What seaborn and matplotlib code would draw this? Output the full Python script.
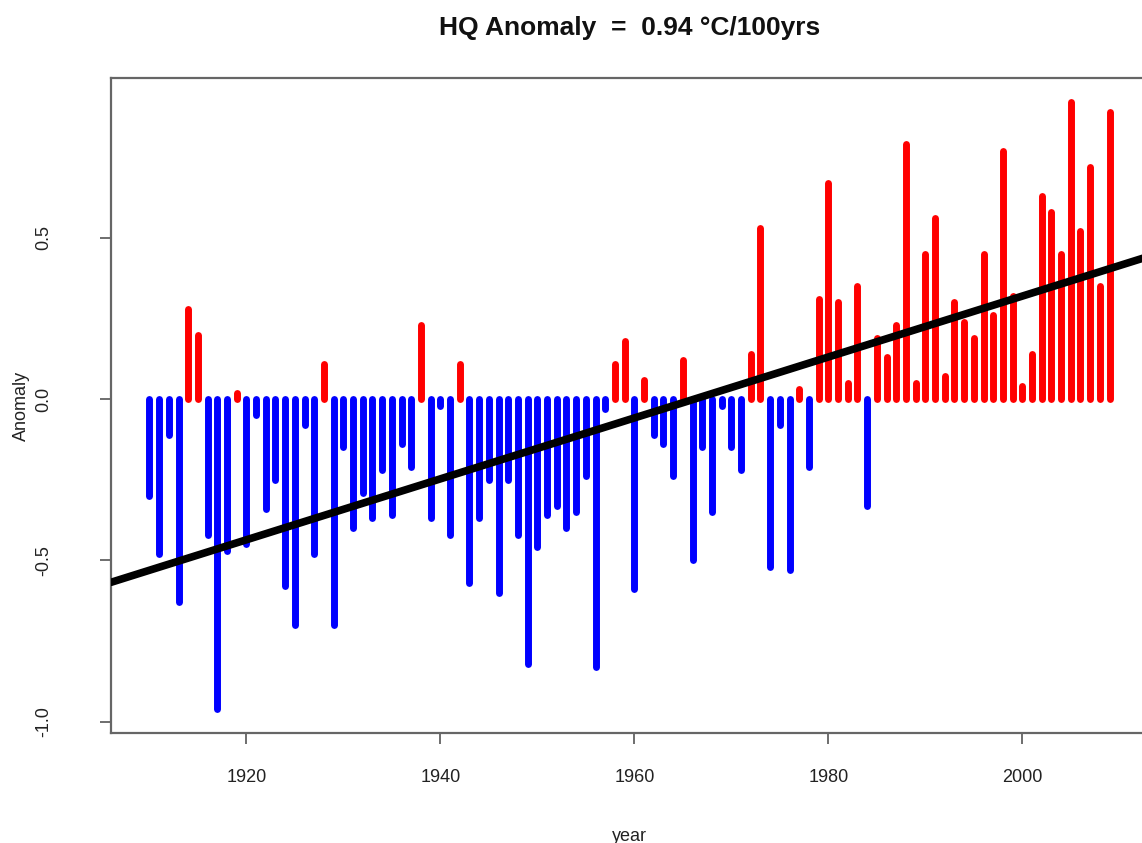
import numpy as np
import pandas as pd
import matplotlib
matplotlib.use("Agg")
import matplotlib.pyplot as plt
import seaborn as sns

# ---- data ----
years = list(range(1910, 2010))
anomaly = [
    -0.30, -0.48, -0.11, -0.63, 0.28, 0.20, -0.42, -0.96, -0.47, 0.02,
    -0.45, -0.05, -0.34, -0.25, -0.58, -0.70, -0.08, -0.48, 0.11, -0.70,
    -0.15, -0.40, -0.29, -0.37, -0.22, -0.36, -0.14, -0.21, 0.23, -0.37,
    -0.02, -0.42, 0.11, -0.57, -0.37, -0.25, -0.60, -0.25, -0.42, -0.82,
    -0.46, -0.36, -0.33, -0.40, -0.35, -0.24, -0.83, -0.03, 0.11, 0.18,
    -0.59, 0.06, -0.11, -0.14, -0.24, 0.12, -0.50, -0.15, -0.35, -0.02,
    -0.15, -0.22, 0.14, 0.53, -0.52, -0.08, -0.53, 0.03, -0.21, 0.31,
    0.67, 0.30, 0.05, 0.35, -0.33, 0.19, 0.13, 0.23, 0.79, 0.05,
    0.45, 0.56, 0.07, 0.30, 0.24, 0.19, 0.45, 0.26, 0.77, 0.32,
    0.04, 0.14, 0.63, 0.58, 0.45, 0.92, 0.52, 0.72, 0.35, 0.89,
]
x_ticks = [1920, 1940, 1960, 1980, 2000]
y_ticks = [-1.0, -0.5, 0.0, 0.5]
title = "HQ Anomaly  =  0.94 \u00b0C/100yrs"

df = pd.DataFrame({"year": years, "anomaly": anomaly})
df["color"] = np.where(df["anomaly"] >= 0, "#FF0000", "#0000FF")

sns.set_style("white")
plt.rcParams["font.family"] = ["Liberation Sans", "DejaVu Sans"]

W, H = 1142, 843
fig = plt.figure(figsize=(W / 100, H / 100), dpi=100)
left, right, top, bottom = 111, 1148, 78, 733
ax = fig.add_axes([left / W, 1 - bottom / H, (right - left) / W, (bottom - top) / H])

xr = df["year"].max() - df["year"].min()
yr = df["anomaly"].max() - df["anomaly"].min()
xlim = (df["year"].min() - 0.04 * xr, df["year"].max() + 0.04 * xr)
ylim = (df["anomaly"].min() - 0.04 * yr, df["anomaly"].max() + 0.04 * yr)
ax.set_xlim(*xlim)
ax.set_ylim(*ylim)

ax.vlines(df["year"], 0, df["anomaly"], colors=df["color"], lw=5.0,
          capstyle="round", zorder=2)

sns.regplot(data=df, x="year", y="anomaly", scatter=False, ci=None,
            truncate=False, ax=ax,
            line_kws=dict(color="black", lw=5.5, zorder=3))

ax.set_xlim(*xlim)
ax.set_ylim(*ylim)

ax.set_xticks(x_ticks)
ax.set_xticklabels([str(t) for t in x_ticks])
ax.set_yticks(y_ticks)
ax.set_yticklabels([f"{t:.1f}" for t in y_ticks], rotation=90, va="center")
ax.tick_params(axis="both", which="both", direction="out", length=8, width=1.2,
               color="#555555", labelsize=13, labelcolor="#222222",
               bottom=True, left=True)
ax.tick_params(axis="x", pad=18)
ax.tick_params(axis="y", pad=34)

for s in ["left", "top", "bottom", "right"]:
    ax.spines[s].set_color("#666666")
    ax.spines[s].set_linewidth(1.6)

ax.set_xlabel("year", fontsize=13, color="#222222", labelpad=30)
ax.set_ylabel("Anomaly", fontsize=13, color="#222222", labelpad=4)

fig.text((left + right) / 2 / W, 1 - 28 / H, title, ha="center", va="center",
         fontsize=19, fontweight="bold", color="#111111")

fig.savefig("out.png", dpi=100)
